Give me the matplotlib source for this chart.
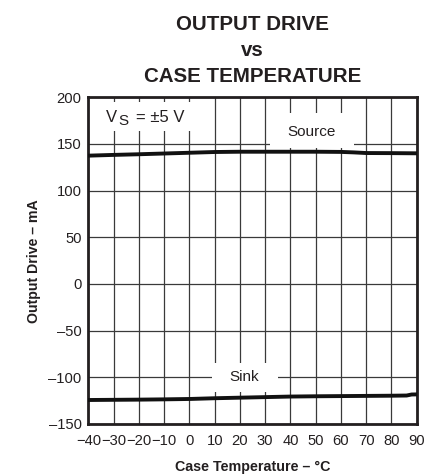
import matplotlib
matplotlib.use("Agg")
import matplotlib.pyplot as plt
from matplotlib.patches import Rectangle

plt.rcParams.update({
    "font.family": ["Liberation Sans", "DejaVu Sans"],
    "text.color": "#231f20",
    "axes.labelcolor": "#231f20",
    "xtick.color": "#231f20",
    "ytick.color": "#231f20",
})

# Output drive (mA) vs case temperature (°C), VS = ±5 V
temp_source = [-40, -30, -20, -10, 0, 10, 20, 30, 40, 50, 60, 65, 70, 80, 90]
source_ma = [137.5, 138.3, 139.0, 139.8, 140.6, 141.4, 141.7, 141.7, 141.7,
             141.7, 141.5, 141.0, 140.3, 140.2, 140.0]

temp_sink = [-40, -30, -20, -10, 0, 10, 20, 30, 40, 50, 60, 70, 80, 86, 88, 90]
sink_ma = [-124.3, -124.1, -123.9, -123.6, -123.2, -122.4, -121.8, -121.2,
           -120.6, -120.3, -120.1, -119.9, -119.7, -119.5, -118.4, -118.3]

x_ticks = list(range(-40, 100, 10))
y_ticks = list(range(-150, 250, 50))
x_labels = ["\u221240", "\u221230", "\u221220", "\u221210"] + [str(t) for t in x_ticks[4:]]
y_labels = [str(t).replace("-", "\u2013") for t in y_ticks]

fig = plt.figure(figsize=(4.44, 4.74), dpi=100)
ax = fig.add_axes([0.1993, 0.1055, 0.7392, 0.6892])

ax.set_xlim(-40, 90)
ax.set_ylim(-150, 200)
ax.set_xticks(x_ticks)
ax.set_xticklabels(x_labels)
ax.set_yticks(y_ticks)
ax.set_yticklabels(y_labels)
ax.tick_params(length=0, labelsize=10.6)
ax.tick_params(axis="x", pad=7)
ax.tick_params(axis="y", pad=5)
ax.grid(True, color="#3a3a3a", linewidth=0.9)
ax.set_axisbelow(True)
for s in ax.spines.values():
    s.set_linewidth(2.0)
    s.set_color("#231f20")

ax.plot(temp_source, source_ma, color="#111111", linewidth=2.8, zorder=4)
ax.plot(temp_sink, sink_ma, color="#111111", linewidth=2.8, zorder=4)

# white patches behind the in-plot labels so the grid breaks around them
for (x0, y0, w, h) in [(-40, 164, 45, 31), (32, 146, 33, 37), (9, -116, 26, 31)]:
    ax.add_patch(Rectangle((x0, y0), w, h, facecolor="white", edgecolor="none",
                           zorder=2))

ax.text(-33, 178, "V", fontsize=12, va="center", ha="left", zorder=5)
ax.text(-28.3, 174.5, "S", fontsize=11, va="center", ha="left", zorder=5)
ax.text(-21.2, 178, "= \u00b15 V", fontsize=12, va="center", ha="left", zorder=5)
ax.text(48.5, 163, "Source", fontsize=11, va="center", ha="center", zorder=5)
ax.text(21.8, -99.5, "Sink", fontsize=11, va="center", ha="center", zorder=5)

ax.set_xlabel("Case Temperature \u2013 \u00b0C", fontsize=10.3, fontweight="bold",
              labelpad=8.5)
ax.set_ylabel("Output Drive \u2013 mA", fontsize=10.2, fontweight="bold", labelpad=5)

cx = 0.1993 + 0.7392 / 2
fig.text(cx, 1 - 24 / 474, "OUTPUT DRIVE", fontsize=14.8, fontweight="bold",
         ha="center", va="center")
fig.text(cx, 1 - 50 / 474, "vs", fontsize=14.8, fontweight="bold",
         ha="center", va="center")
fig.text(cx, 1 - 76 / 474, "CASE TEMPERATURE", fontsize=14.8, fontweight="bold",
         ha="center", va="center")

fig.savefig("out.png", dpi=100)
